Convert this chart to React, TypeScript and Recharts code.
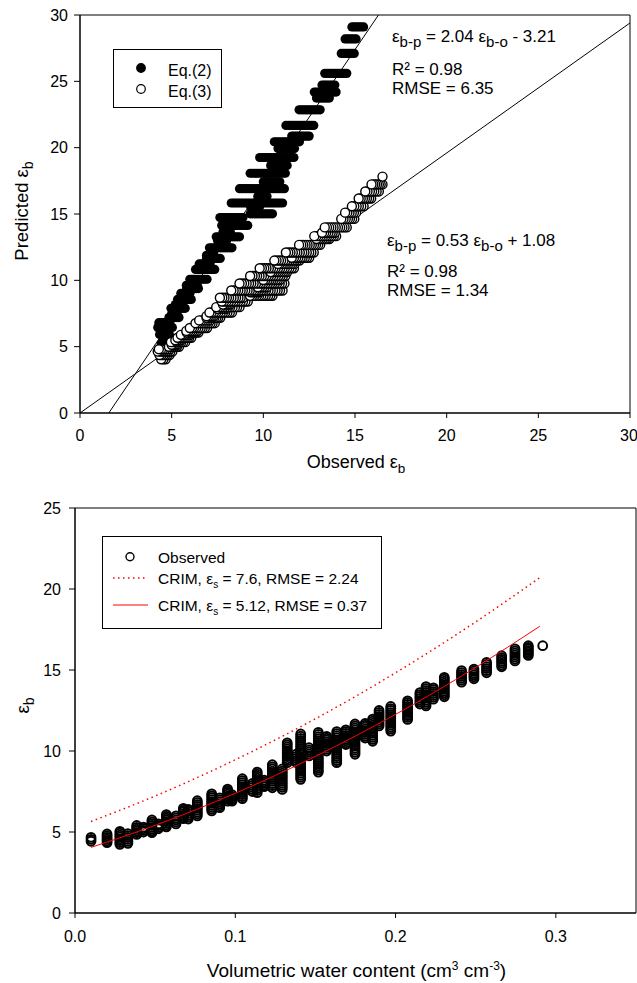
import React from 'react';
import {
  ScatterChart,
  Scatter,
  XAxis,
  YAxis,
  ReferenceLine,
  ReferenceArea,
  Legend,
  Label,
} from 'recharts';

const FONT = '"Liberation Sans", Arial, Helvetica, sans-serif';

// volumetric water content of each measurement group (cm3 cm-3)
const thetaLevels = [
  0.01, 0.02, 0.028, 0.033, 0.0385, 0.0427, 0.048, 0.052, 0.057, 0.063, 0.0676, 0.0707,
  0.0763, 0.0853, 0.0903, 0.0952, 0.098, 0.1044, 0.1107, 0.1137, 0.118, 0.1231, 0.1293,
  0.1324, 0.138, 0.1408, 0.146, 0.1518, 0.157, 0.1633, 0.169, 0.1747, 0.181, 0.1857,
  0.1897, 0.197, 0.2075, 0.2152, 0.219, 0.2236, 0.2304, 0.2412, 0.2489, 0.2568, 0.2662,
  0.2745, 0.2828, 0.2918,
];

// observed bulk permittivity readings in each group
const observedByLevel = [
  [4.43, 4.55, 4.67],
  [4.34, 4.45, 4.56, 4.66, 4.77, 4.88],
  [4.24, 4.35, 4.47, 4.58, 4.7, 4.81, 4.93, 5.04],
  [4.3, 4.42, 4.54, 4.66, 4.78, 4.9],
  [4.85, 4.96, 5.07, 5.18, 5.29, 5.4],
  [5.0, 5.1, 5.2, 5.3],
  [4.96, 5.07, 5.18, 5.29, 5.41, 5.52, 5.63, 5.74],
  [5.2, 5.3, 5.4, 5.5],
  [5.32, 5.43, 5.53, 5.64, 5.75, 5.86, 5.96, 6.07],
  [5.5, 5.62, 5.75, 5.87, 6.0],
  [5.82, 5.93, 6.03, 6.14, 6.25, 6.35, 6.46],
  [5.8, 5.92, 6.04, 6.16, 6.28, 6.4],
  [5.99, 6.11, 6.22, 6.34, 6.46, 6.58, 6.69, 6.81, 6.93],
  [6.3, 6.42, 6.53, 6.65, 6.77, 6.88, 7.0, 7.12, 7.23, 7.35],
  [6.5, 6.62, 6.74, 6.86, 6.98, 7.1],
  [6.9, 7.01, 7.11, 7.22, 7.33, 7.44, 7.54, 7.65],
  [6.9, 7.0, 7.1, 7.2, 7.3],
  [7.06, 7.18, 7.31, 7.43, 7.55, 7.68, 7.8, 7.92, 8.04, 8.17, 8.29],
  [7.5, 7.62, 7.75, 7.87, 8.0],
  [7.43, 7.56, 7.68, 7.81, 7.94, 8.07, 8.19, 8.32, 8.45, 8.57, 8.7],
  [7.8, 7.9, 8.0, 8.1, 8.2],
  [7.73, 7.86, 7.99, 8.12, 8.25, 8.38, 8.5, 8.63, 8.76, 8.89, 9.02, 9.15],
  [7.63, 7.76, 7.88, 8.01, 8.13, 8.26, 8.39, 8.51, 8.64, 8.76, 8.89],
  [9.28, 9.4, 9.52, 9.65, 9.77, 9.89, 10.01, 10.13, 10.26, 10.38, 10.5],
  [9.3, 9.42, 9.55, 9.67, 9.8],
  [8.25, 8.38, 8.5, 8.63, 8.76, 8.88, 9.01, 9.14, 9.26, 9.39, 9.52, 9.64, 9.77, 9.9, 10.02,
    10.15, 10.28, 10.4, 10.53, 10.66, 10.78, 10.91, 11.05],
  [9.7, 9.82, 9.95, 10.07, 10.2],
  [8.7, 8.83, 8.96, 9.09, 9.22, 9.34, 9.47, 9.6, 9.73, 9.86, 9.99, 10.12, 10.25, 10.38, 10.5,
    10.63, 10.76, 10.89, 11.02, 11.15],
  [10.0, 10.11, 10.23, 10.34, 10.45, 10.56, 10.68, 10.79, 10.9],
  [9.28, 9.41, 9.54, 9.66, 9.79, 9.92, 10.05, 10.18, 10.3, 10.43, 10.56, 10.69, 10.82, 10.94,
    11.07, 11.2],
  [10.4, 10.51, 10.63, 10.74, 10.85, 10.96, 11.08, 11.19, 11.3],
  [9.8, 9.92, 10.05, 10.17, 10.3, 10.42, 10.55, 10.67, 10.8, 10.92, 11.05, 11.17, 11.3, 11.42,
    11.55, 11.67],
  [10.8, 10.91, 11.03, 11.14, 11.25, 11.36, 11.48, 11.59, 11.7],
  [10.6, 10.72, 10.85, 10.97, 11.1, 11.22, 11.35, 11.47, 11.6, 11.72, 11.85, 11.97],
  [11.55, 11.67, 11.79, 11.91, 12.03, 12.14, 12.26, 12.38, 12.5],
  [11.23, 11.36, 11.48, 11.61, 11.74, 11.86, 11.99, 12.12, 12.24, 12.37, 12.5, 12.62, 12.75],
  [11.95, 12.07, 12.18, 12.3, 12.41, 12.53, 12.64, 12.76, 12.87, 12.99, 13.1],
  [12.9, 13.02, 13.13, 13.25, 13.37, 13.48, 13.6],
  [12.78, 12.9, 13.02, 13.14, 13.26, 13.38, 13.49, 13.61, 13.73, 13.85, 13.97],
  [13.2, 13.32, 13.43, 13.55, 13.67, 13.78, 13.9],
  [13.35, 13.47, 13.59, 13.71, 13.83, 13.95, 14.07, 14.19, 14.31, 14.43, 14.55],
  [14.25, 14.37, 14.49, 14.61, 14.72, 14.84, 14.96],
  [14.46, 14.58, 14.7, 14.82, 14.94, 15.06],
  [14.83, 14.96, 15.09, 15.21, 15.34, 15.47],
  [15.2, 15.31, 15.43, 15.54, 15.65, 15.77, 15.88],
  [15.56, 15.68, 15.81, 15.93, 16.05, 16.18, 16.3],
  [15.9, 16.0, 16.1, 16.2, 16.3, 16.4, 16.5],
  [16.5],
];

// predicted permittivity of each group
const eq2ByLevel = [
  5.26, 5.91, 6.45, 6.81, 7.19, 7.49, 7.89, 8.18, 8.56, 9.02, 9.38, 9.63, 10.08, 10.82,
  11.24, 11.65, 11.89, 12.45, 13.01, 13.28, 13.67, 14.14, 14.73, 15.01, 15.56, 15.83,
  16.33, 16.91, 17.43, 18.07, 18.66, 19.26, 19.93, 20.44, 20.87, 21.68, 22.85, 23.74,
  24.19, 24.72, 25.6, 27.1, 28.2, 29.1, 30.6, 31.6, 32.6, 33.8,
];
const eq3ByLevel = [
  4.05, 4.37, 4.63, 4.81, 4.99, 5.14, 5.34, 5.48, 5.67, 5.89, 6.07, 6.19, 6.41, 6.77,
  6.98, 7.18, 7.3, 7.57, 7.85, 7.98, 8.17, 8.4, 8.69, 8.83, 9.1, 9.23, 9.48, 9.76,
  10.02, 10.33, 10.62, 10.91, 11.24, 11.49, 11.7, 12.1, 12.67, 13.11, 13.33, 13.59,
  13.99, 14.63, 15.1, 15.58, 16.17, 16.7, 17.23, 17.82,
];

// CRIM model curves
const crimTheta = [0.01, 0.05, 0.1, 0.15, 0.2, 0.25, 0.29];
const crimEs76 = [5.65, 7.22, 9.46, 11.99, 14.83, 17.97, 20.7];
const crimEs512 = [4.05, 5.41, 7.39, 9.67, 12.26, 15.16, 17.7];

// straight lines of the upper panel
const fitEq2X = [1.57, 16.28];
const fitEq2Y = [0, 30];
const refLineX = [0, 30];
const refLineY = [0, 29.4];

const topTicks = [0, 5, 10, 15, 20, 25, 30];
const bottomYTicks = [0, 5, 10, 15, 20, 25];
const bottomXTicks = [0, 0.1, 0.2, 0.3];

const topSeries = ['Eq.(2)', 'Eq.(3)'];
const bottomSeries = ['Observed', 'CRIM, εs = 7.6, RMSE = 2.24', 'CRIM, εs = 5.12, RMSE = 0.37'];

// upper panel: drawn right to left so the left circle of a run sits on top
const eq2Points = observedByLevel.flatMap((obs, i) => [...obs].reverse().map((o) => ({ x: o, y: eq2ByLevel[i] })));
const eq3Points = observedByLevel.flatMap((obs, i) => [...obs].reverse().map((o) => ({ x: o, y: eq3ByLevel[i] })));
const observedPoints = observedByLevel.flatMap((obs, i) => obs.map((o) => ({ x: thetaLevels[i], y: o })));
const crimDryPoints = crimTheta.map((t, i) => ({ x: t, y: crimEs76[i] }));
const crimFitPoints = crimTheta.map((t, i) => ({ x: t, y: crimEs512[i] }));

const tickStyle = { fill: '#000', fontSize: 16, fontFamily: FONT };

const ordered = (payload: any[] = [], names: string[]) =>
  [...payload].sort((a, b) => names.indexOf(a.value) - names.indexOf(b.value));

const TopLegend = ({ payload }: any) => (
  <svg width={110} height={60} style={{ display: 'block' }}>
    <rect x={0.5} y={0.5} width={108} height={58} fill="#fff" stroke="#000" />
    {ordered(payload, topSeries).map((e: any, i: number) => (
      <g key={i}>
        <circle cx={28} cy={19 + i * 21} r={4.3} fill={i === 0 ? '#000' : '#fff'} stroke="#000" strokeWidth={1.2} />
        <text x={55} y={27 + i * 21} fontSize={16} fontFamily={FONT}>{e.value}</text>
      </g>
    ))}
  </svg>
);

const crimLabel = (value: string) => {
  const parts = String(value).split('εs');
  if (parts.length < 2) return value;
  return (
    <>
      {parts[0]}ε<tspan dy={4} fontSize={10}>s</tspan>
      <tspan dy={-4}>{parts[1]}</tspan>
    </>
  );
};

const BottomLegend = ({ payload }: any) => {
  const rows = [20.7, 42, 69];
  const base = [26.7, 48, 74.7];
  return (
    <svg width={281} height={94} style={{ display: 'block' }}>
      <rect x={0.5} y={0.5} width={279} height={92} fill="#fff" stroke="#000" />
      {ordered(payload, bottomSeries).map((e: any, i: number) => (
        <g key={i}>
          {i === 0 ? (
            <circle cx={28} cy={rows[i]} r={4} fill="none" stroke="#000" strokeWidth={1.4} />
          ) : (
            <line
              x1={11}
              x2={46}
              y1={rows[i]}
              y2={rows[i]}
              stroke="#ff0000"
              strokeWidth={i === 1 ? 1.5 : 1}
              strokeDasharray={i === 1 ? '1.5 3.5' : undefined}
            />
          )}
          <text x={56} y={base[i]} fontSize={15.5} fontFamily={FONT}>{crimLabel(e.value)}</text>
        </g>
      ))}
    </svg>
  );
};

const App = () => {
  return (
    <div style={{ position: 'absolute', left: 0, top: 0, width: 637, height: 983, background: '#fff' }}>
      <div style={{ position: 'absolute', left: 0, top: 0 }}>
        <ScatterChart width={637} height={490} margin={{ top: 15, right: 7, bottom: 0, left: 20 }}>
          <XAxis
            type="number"
            dataKey="x"
            domain={[0, 30]}
            ticks={topTicks}
            allowDataOverflow
            height={77}
            stroke="#000"
            tickSize={5}
            tickMargin={12}
            tick={tickStyle}
          >
            <Label
              content={(props: any) => {
                const vb = props.viewBox;
                return (
                  <text x={vb.x + vb.width / 2 + 1} y={vb.y + 55} textAnchor="middle" fontSize={18} fontFamily={FONT}>
                    Observed ε<tspan dy={5} fontSize={13.5}>b</tspan>
                  </text>
                );
              }}
            />
          </XAxis>
          <YAxis
            type="number"
            dataKey="y"
            domain={[0, 30]}
            ticks={topTicks}
            allowDataOverflow
            width={60}
            stroke="#000"
            tickSize={6}
            tickMargin={6}
            tick={tickStyle}
          >
            <Label
              content={(props: any) => {
                const vb = props.viewBox;
                const cx = vb.x + 8;
                const cy = vb.y + vb.height / 2 - 3;
                return (
                  <text x={cx} y={cy} transform={`rotate(-90 ${cx} ${cy})`} textAnchor="middle" fontSize={18.5} fontFamily={FONT}>
                    Predicted ε<tspan dy={5} fontSize={14}>b</tspan>
                  </text>
                );
              }}
            />
          </YAxis>
          <ReferenceArea x1={0} x2={30} y1={0} y2={30} fill="none" stroke="#000" strokeWidth={1} />
          <Scatter
            name={topSeries[0]}
            data={eq2Points}
            isAnimationActive={false}
            shape={(p: any) => <circle cx={p.cx} cy={p.cy} r={4.6} fill="#000" />}
          />
          <Scatter
            name={topSeries[1]}
            data={eq3Points}
            isAnimationActive={false}
            shape={(p: any) => <circle cx={p.cx} cy={p.cy} r={4.5} fill="#fff" stroke="#000" strokeWidth={1.4} />}
          />
          <ReferenceLine
            segment={[{ x: fitEq2X[0], y: fitEq2Y[0] }, { x: fitEq2X[1], y: fitEq2Y[1] }]}
            stroke="#000"
            strokeWidth={1}
          />
          <ReferenceLine
            segment={[{ x: refLineX[0], y: refLineY[0] }, { x: refLineX[1], y: refLineY[1] }]}
            stroke="#000"
            strokeWidth={1}
          />
          <Legend
            layout="vertical"
            align="center"
            verticalAlign="middle"
            wrapperStyle={{ left: 113, top: 49, width: 110, height: 60 }}
            content={(props: any) => <TopLegend payload={props.payload} />}
          />
        </ScatterChart>
        <svg
          width={637}
          height={490}
          style={{ position: 'absolute', left: 0, top: 0, pointerEvents: 'none' }}
          fontFamily={FONT}
          fontSize={17}
        >
          <text x={392} y={42}>
            ε<tspan dy={5} fontSize={15}>b-p</tspan>
            <tspan dy={-5}> = 2.04 ε</tspan>
            <tspan dy={5} fontSize={15}>b-o</tspan>
            <tspan dy={-5}> - 3.21</tspan>
          </text>
          <text x={392} y={75}>R² = 0.98</text>
          <text x={392} y={94}>RMSE = 6.35</text>
          <text x={387} y={246}>
            ε<tspan dy={5} fontSize={15}>b-p</tspan>
            <tspan dy={-5}> = 0.53 ε</tspan>
            <tspan dy={5} fontSize={15}>b-o</tspan>
            <tspan dy={-5}> + 1.08</tspan>
          </text>
          <text x={387} y={277}>R² = 0.98</text>
          <text x={387} y={296}>RMSE = 1.34</text>
        </svg>
      </div>

      <div style={{ position: 'absolute', left: 0, top: 490 }}>
        <ScatterChart width={637} height={493} margin={{ top: 18, right: 1, bottom: 0, left: 20 }}>
          <XAxis
            type="number"
            dataKey="x"
            domain={[0, 0.35]}
            ticks={bottomXTicks}
            tickFormatter={(v: number) => v.toFixed(1)}
            allowDataOverflow
            height={70}
            stroke="#000"
            tickSize={5}
            tickMargin={13}
            tick={tickStyle}
          >
            <Label
              content={(props: any) => {
                const vb = props.viewBox;
                return (
                  <text x={vb.x + vb.width / 2 + 1} y={vb.y + 64} textAnchor="middle" fontSize={19} fontFamily={FONT}>
                    Volumetric water content (cm<tspan dy={-7} fontSize={12}>3</tspan>
                    <tspan dy={7}> cm</tspan>
                    <tspan dy={-7} fontSize={12}>-3</tspan>
                    <tspan dy={7}>)</tspan>
                  </text>
                );
              }}
            />
          </XAxis>
          <YAxis
            type="number"
            dataKey="y"
            domain={[0, 25]}
            ticks={bottomYTicks}
            allowDataOverflow
            width={55}
            stroke="#000"
            tickSize={6}
            tickMargin={8}
            tick={tickStyle}
          >
            <Label
              content={(props: any) => {
                const vb = props.viewBox;
                const cx = vb.x + 9;
                const cy = vb.y + vb.height / 2 - 5;
                return (
                  <text x={cx} y={cy} transform={`rotate(-90 ${cx} ${cy})`} textAnchor="middle" fontSize={18.5} fontFamily={FONT}>
                    ε<tspan dy={5} fontSize={14}>b</tspan>
                  </text>
                );
              }}
            />
          </YAxis>
          <ReferenceArea x1={0} x2={0.35} y1={0} y2={25} fill="none" stroke="#000" strokeWidth={1} />
          <Scatter
            name={bottomSeries[0]}
            data={observedPoints}
            isAnimationActive={false}
            shape={(p: any) => <circle cx={p.cx} cy={p.cy} r={4.4} fill="none" stroke="#000" strokeWidth={2} />}
          />
          <Scatter
            name={bottomSeries[1]}
            data={crimDryPoints}
            isAnimationActive={false}
            line={{ stroke: '#ff0000', strokeWidth: 1.5, strokeDasharray: '1.5 3.5' }}
            lineJointType="monotoneX"
            shape={() => <g />}
          />
          <Scatter
            name={bottomSeries[2]}
            data={crimFitPoints}
            isAnimationActive={false}
            line={{ stroke: '#ff0000', strokeWidth: 1 }}
            lineJointType="monotoneX"
            shape={() => <g />}
          />
          <Legend
            layout="vertical"
            align="center"
            verticalAlign="middle"
            wrapperStyle={{ left: 102, top: 46, width: 281, height: 94 }}
            content={(props: any) => <BottomLegend payload={props.payload} />}
          />
        </ScatterChart>
      </div>
    </div>
  );
};

export default App;
